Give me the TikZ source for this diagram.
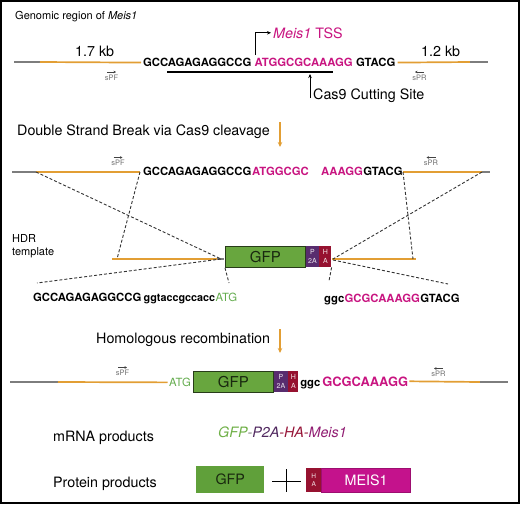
\documentclass[tikz,border=0pt]{standalone}
\usepackage{fontspec}
\setmainfont{TeX Gyre Heros}
\usetikzlibrary{arrows.meta}
\definecolor{orangeL}{RGB}{226,158,52}
\definecolor{grayL}{RGB}{125,125,125}
\definecolor{primG}{RGB}{110,110,110}
\definecolor{magT}{RGB}{200,20,128}
\definecolor{gfpG}{RGB}{104,166,62}
\definecolor{gfpPro}{RGB}{96,160,58}
\definecolor{gfpBorder}{RGB}{40,60,25}
\definecolor{gfpText}{RGB}{25,40,15}
\definecolor{p2aP}{RGB}{88,44,110}
\definecolor{haR}{RGB}{150,18,48}
\definecolor{meisM}{RGB}{196,18,140}
\definecolor{atgG}{RGB}{100,172,78}
\definecolor{mGreen}{RGB}{110,175,70}
\definecolor{mPurple}{RGB}{80,40,95}
\definecolor{mRed}{RGB}{150,20,55}
\definecolor{mMag}{RGB}{145,30,115}
\begin{document}
\begin{tikzpicture}[x=1pt,y=-1pt,
  lab/.style={inner sep=0pt, anchor=base west, font=\fontsize{14.3}{17}\selectfont},
  smalllab/.style={inner sep=0pt, anchor=base west, font=\fontsize{11}{13}\selectfont},
  seqb/.style={inner sep=0pt, anchor=base west, font=\fontsize{11.3}{13}\selectfont\bfseries},
  seqr/.style={inner sep=0pt, anchor=base west, font=\fontsize{11.3}{13}\selectfont},
  orl/.style={draw=orangeL, line width=1.7pt},
  gyl/.style={draw=grayL, line width=1.7pt},
  dsh/.style={draw=black!80, line width=0.9pt, dash pattern=on 3pt off 2pt},
  prim/.style={inner sep=0pt, font=\fontsize{7.5}{9}\selectfont, text=primG},
  primarr/.style={draw=primG!60!black, line width=0.6pt, -{Stealth[length=2.5pt,width=2.6pt]}},
  downarr/.style={draw=orangeL, line width=1.3pt, -{Stealth[length=5pt,width=4.5pt]}},
  blkarr/.style={draw=black, line width=0.9pt, -{Stealth[length=4pt,width=3.5pt]}},
  gfpbox/.style={draw=gfpBorder, fill=gfpG, line width=0.8pt, inner sep=0pt, anchor=north west, font=\fontsize{15}{17}\selectfont, text=gfpText},
  p2abox/.style={fill=p2aP, inner sep=0pt, anchor=north west, font=\fontsize{7}{9}\selectfont, text=white!90!p2aP, align=center},
  habox/.style={fill=haR, inner sep=0pt, anchor=north west, font=\fontsize{7}{9}\selectfont, text=white!90!haR, align=center}
]
\useasboundingbox (0,0) rectangle (520,504);
\draw[line width=1.6pt] (0.8,0.8) rectangle (519.2,503.2);

% ---------- Row 1: genomic region ----------
\node[smalllab] (title) at (15,19.3) {Genomic region of \textit{Meis1}};
\node[seqb] (s1a) at (143,66.7) {GCCAGAGAGGCCG};
\node[seqb, text=magT] (s1b) at ([xshift=3pt]s1a.base east) {ATGGCGCAAAGG};
\node[seqb] (s1c) at ([xshift=3pt]s1b.base east) {GTACG};
\coordinate (l1s) at (14,62);
\coordinate (l1g) at (40,62);
\coordinate (r1g) at (470,62);
\coordinate (r1e) at (488,62);
\draw[gyl] (l1s) -- (l1g);
\draw[orl] (l1g) -- ([xshift=-2pt]s1a.west);
\draw[orl] ([xshift=2pt]s1c.east) -- (r1g);
\draw[gyl] (r1g) -- (r1e);
\node[lab] (kb1) at (75,56.7) {1.7 kb};
\node[lab] (kb2) at (421,56) {1.2 kb};
\node[prim] (pf1) at (111.5,77.5) {sPF};
\draw[primarr] ([xshift=-4.5pt,yshift=2.5pt]pf1.north) -- ([xshift=4.5pt,yshift=2.5pt]pf1.north);
\node[prim] (pr1) at (419.5,77.5) {sPR};
\draw[primarr] ([xshift=4.5pt,yshift=2.5pt]pr1.north) -- ([xshift=-4.5pt,yshift=2.5pt]pr1.north);
\coordinate (ul1) at (167,72);
\coordinate (ul2) at (333,72);
\draw[line width=1.1pt] (ul1) -- (ul2);
\node[lab, text=magT] (tss) at (273,38) {\textit{Meis1} TSS};
\coordinate (tssb) at ([xshift=0.5pt]s1b.north west);
\draw[blkarr] ([yshift=3pt]tssb) |- ([xshift=-2pt]tss.west);
\node[lab] (cas9) at (313,99) {Cas9 Cutting Site};
\coordinate (cutb) at (310,98);
\coordinate (cutt) at (310,74);
\draw[blkarr] (cutb) -- (cutt);

% ---------- Row 2: DSB ----------
\node[lab] (dsb) at (17,135.7) {Double Strand Break via Cas9 cleavage};
\coordinate (a1s) at (280,122);
\coordinate (a1e) at (280,147);
\draw[downarr] (a1s) -- (a1e);
\node[seqb] (s2a) at (143,175.8) {GCCAGAGAGGCCG};
\node[seqb, text=magT] (s2b) at ([xshift=0.5pt]s2a.base east) {ATGGCGC};
\node[seqb, text=magT] (s2c) at (321,175.8) {AAAGG};
\node[seqb] (s2d) at (s2c.base east) {GTACG};
\coordinate (l2s) at (12,172);
\coordinate (l2g) at (36,172);
\coordinate (l2o) at (140,172);
\coordinate (r2o) at (403,172);
\coordinate (r2g) at (482,172);
\coordinate (r2e) at (490,172);
\draw[gyl] (l2s) -- (l2g);
\draw[orl] (l2g) -- (l2o);
\draw[orl] (r2o) -- (r2g);
\draw[gyl] (r2g) -- (r2e);
\node[prim] (pf2) at (118,163) {sPF};
\draw[primarr] ([xshift=-4.5pt,yshift=2.5pt]pf2.north) -- ([xshift=4.5pt,yshift=2.5pt]pf2.north);
\node[prim] (pr2) at (431,163) {sPR};
\draw[primarr] ([xshift=4.5pt,yshift=2.5pt]pr2.north) -- ([xshift=-4.5pt,yshift=2.5pt]pr2.north);

% ---------- HDR template ----------
\node[smalllab] (hdr) at (12,242) {HDR};
\node[smalllab] (tmpl) at (12,255) {template};
\coordinate (t1s) at (112,259);
\coordinate (t1o) at (217,259);
\coordinate (t1g) at (224,259);
\node[gfpbox, minimum width=80pt, minimum height=21pt] (gfp1) at (225,246) {GFP};
\node[p2abox, minimum width=13pt, minimum height=21pt] (p2a1) at (gfp1.north east) {P\\2A};
\node[habox, minimum width=12pt, minimum height=21pt] (ha1) at (p2a1.north east) {H\\A};
\coordinate (t2s) at (332,259);
\coordinate (t2e) at (416,259);
\draw[orl] (t1s) -- (t1o);
\draw[gyl] (t1o) -- (t1g);
\draw[orl] (t2s) -- (t2e);
% dashed mapping lines
\coordinate (dL1) at (117,259);
\coordinate (dL2) at (221,259);
\coordinate (dR1) at (413,259);
\coordinate (dR2) at (333,259);
\draw[dsh] (l2g) -- (dL2);
\draw[dsh] (l2o) -- (dL1);
\draw[dsh] (r2o) -- (dR1);
\draw[dsh] (r2g) -- (dR2);
\coordinate (b1) at (37,283);
\coordinate (b2) at (229,283);
\coordinate (b3) at (329,281);
\coordinate (b4) at (448,284);
\draw[dsh] (dL2) -- (b1);
\draw[dsh] (gfp1.south west) -- (b2);
\draw[dsh] (ha1.south east) -- (b3);
\draw[dsh] ([yshift=-1pt]dR2) -- (b4);

% ---------- Row 3 sequences ----------
\node[seqb] (s3a) at (33,301) {GCCAGAGAGGCCG};
\node[seqb, font=\fontsize{10.8}{13}\selectfont\bfseries] (s3b) at ([xshift=2pt]s3a.base east) {ggtaccgccacc};
\node[seqr, text=atgG] (s3c) at (s3b.base east) {ATG};
\node[seqb] (s3d) at (324,302) {ggc};
\node[seqb, text=magT] (s3e) at (s3d.base east) {GCGCAAAGG};
\node[seqb] (s3f) at (s3e.base east) {GTACG};

% ---------- Row 4: HR ----------
\node[lab] (hr) at (96,343) {Homologous recombination};
\coordinate (a2s) at (280,329);
\coordinate (a2e) at (280,353);
\draw[downarr] (a2s) -- (a2e);
\node[seqr, text=atgG] (atg4) at (169,386.5) {ATG};
\node[gfpbox, minimum width=80pt, minimum height=21pt] (gfp2) at (193,371) {GFP};
\node[p2abox, minimum width=14pt, minimum height=21pt] (p2a2) at (gfp2.north east) {P\\2A};
\node[habox, minimum width=10pt, minimum height=21pt] (ha2) at (p2a2.north east) {H\\A};
\node[seqb] (g4) at ([xshift=1.5pt]ha2.east |- 0,386) {ggc};
\node[seqb, text=magT, font=\fontsize{12.9}{14}\selectfont\bfseries] (m4) at ([xshift=1.5pt]g4.base east) {GCGCAAAGG};
\coordinate (l4s) at (10,382);
\coordinate (l4g) at (58,382);
\coordinate (r4g) at (480,382);
\coordinate (r4e) at (508,382);
\draw[gyl] (l4s) -- (l4g);
\draw[orl] (l4g) -- ([xshift=-1.5pt]atg4.west);
\draw[orl] ([xshift=1pt]m4.east) -- (r4g);
\draw[gyl] (r4g) -- (r4e);
\node[prim] (pf4) at (122.5,373) {sPF};
\draw[primarr] ([xshift=-4.5pt,yshift=2.5pt]pf4.north) -- ([xshift=4.5pt,yshift=2.5pt]pf4.north);
\node[prim] (pr4) at (438.5,374) {sPR};
\draw[primarr] ([xshift=4.5pt,yshift=2.5pt]pr4.north) -- ([xshift=-4.5pt,yshift=2.5pt]pr4.north);

% ---------- products ----------
\node[lab] (mrna) at (53,441) {mRNA products};
\node[lab] (mrnaseq) at (218,437.5) {\itshape\textcolor{mGreen}{GFP}\textcolor{grayL}{-}\textcolor{mPurple}{P2A}\textcolor{mRed}{-HA-}\textcolor{mMag}{Meis1}};
\node[lab] (prot) at (53,487) {Protein products};
\node[fill=gfpPro, inner sep=0pt, minimum width=68pt, minimum height=27pt, anchor=north west, font=\fontsize{14.3}{17}\selectfont, text=gfpText] (gfp3) at (196,466) {GFP};
\coordinate (plL) at (272,481);
\coordinate (plR) at (301,481);
\coordinate (plT) at (286,469);
\coordinate (plB) at (286,492);
\draw[line width=1pt] (plL) -- (plR);
\draw[line width=1pt] (plT) -- (plB);
\node[habox, minimum width=15pt, minimum height=24pt, font=\fontsize{6.5}{8.5}\selectfont] (ha3) at (306,468) {H\\A};
\node[fill=meisM, draw=meisM!80!black, line width=0.6pt, inner sep=0pt, minimum width=89pt, minimum height=24pt, anchor=north west, font=\fontsize{14.3}{17}\selectfont, text=white] (meis) at (ha3.north east) {MEIS1};
\end{tikzpicture}
\end{document}
